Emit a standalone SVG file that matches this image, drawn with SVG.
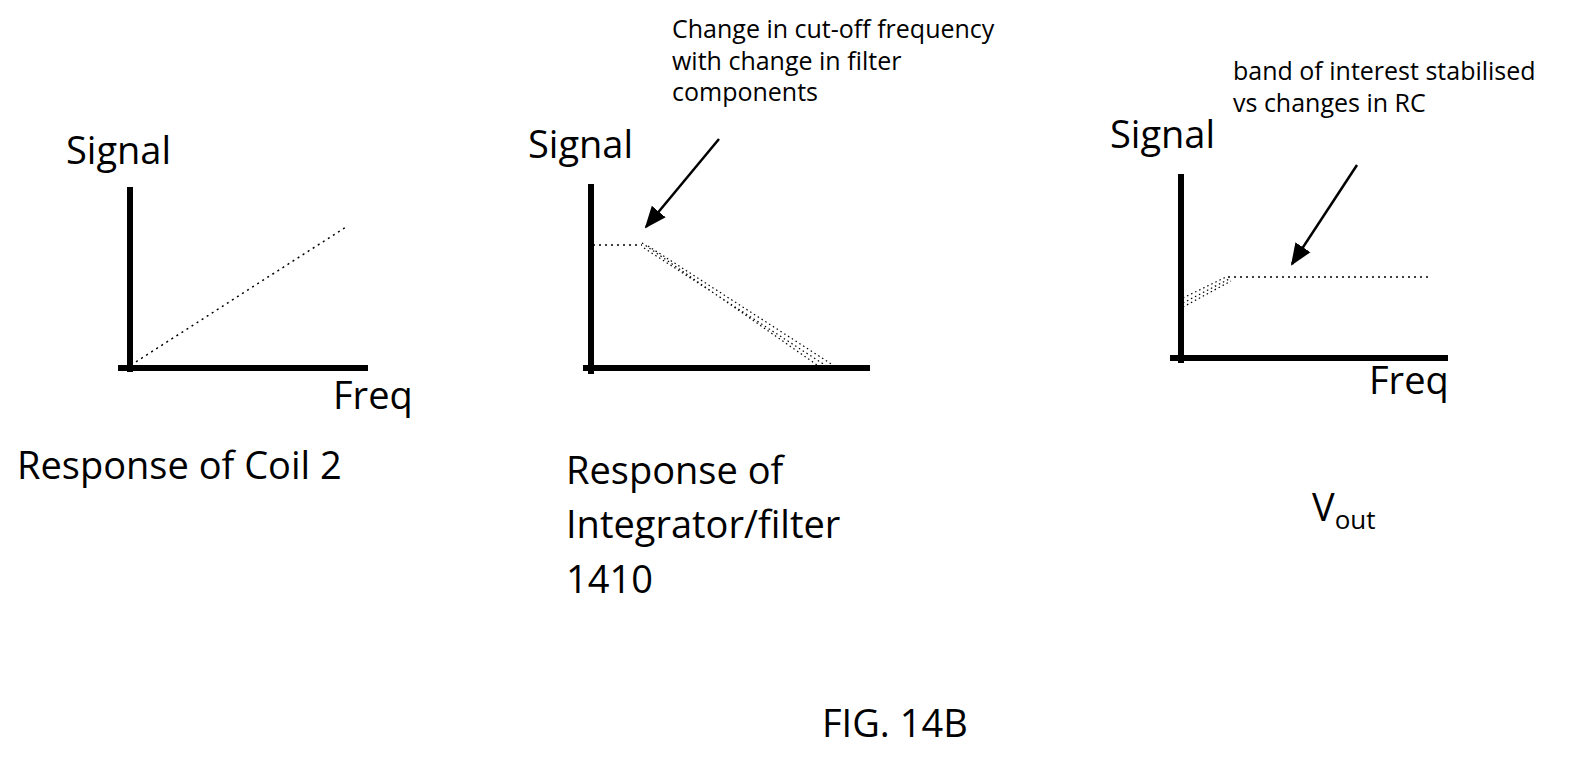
<svg xmlns="http://www.w3.org/2000/svg" width="1591" height="769" viewBox="0 0 1591 769">
<style>
text{font-family:"Open Sans","Liberation Sans",sans-serif;fill:#000}
.big{font-size:38px}
.sm{font-size:25px}
.ax{stroke:#000;stroke-width:6;fill:none}
.dot{stroke:#000;stroke-width:1.5;stroke-dasharray:2 4;fill:none}
.band{stroke:#000;stroke-width:1.2;stroke-dasharray:1.5 3;fill:none}
.arr{stroke:#000;stroke-width:2.5;fill:none}
</style>
<defs>
<marker id="ah2" markerWidth="22" markerHeight="22" refX="20" refY="11" orient="auto" markerUnits="userSpaceOnUse"><path d="M0,2 L22,11 L0,20z" fill="#000"/></marker></defs>
<rect width="1591" height="769" fill="#fff"/>
<g id="graph1">
<path class="ax" d="M130,187V372M118,368H368"/>
<path class="dot" d="M131,365L346,227"/>
<text class="big" x="66" y="164">Signal</text>
<text class="big" x="333" y="409">Freq</text>
<text class="big" x="17" y="479">Response of Coil 2</text>
</g>
<g id="graph2">
<path class="ax" d="M591,184V374M583,368H870"/>
<path class="dot" d="M593,245H642"/>
<path class="band" d="M642,243L820,367M644,248L828,367M648,246L836,367"/>
<text class="big" x="528" y="158">Signal</text>
<text class="big" x="566" y="484">Response of</text>
<text class="big" x="566" y="538">Integrator/filter</text>
<text class="big" x="566" y="593">1410</text>
<text class="sm" x="672" y="38">Change in cut-off frequency</text>
<text class="sm" x="672" y="70">with change in filter</text>
<text class="sm" x="672" y="101">components</text>
</g>
<g id="graph3">
<path class="ax" d="M1181,174V363M1170,358H1448"/>
<path class="dot" d="M1228,277H1432"/>
<path class="band" d="M1183,298L1226,277M1183,303L1229,279M1183,307L1231,281"/>
<text class="big" x="1110" y="148">Signal</text>
<text class="big" x="1369" y="394">Freq</text>
<text class="big" x="1312" y="521">V<tspan font-size="26" dy="8">out</tspan></text>
<text class="sm" x="1233" y="80">band of interest stabilised</text>
<text class="sm" x="1233" y="112">vs changes in RC</text>
</g>
<g id="connectors">
<path class="arr" d="M719,139L646,227" marker-end="url(#ah2)"/>
<path class="arr" d="M1357,165L1292,264" marker-end="url(#ah2)"/>
</g>
<text class="big" x="822" y="737">FIG. 14B</text>
</svg>
